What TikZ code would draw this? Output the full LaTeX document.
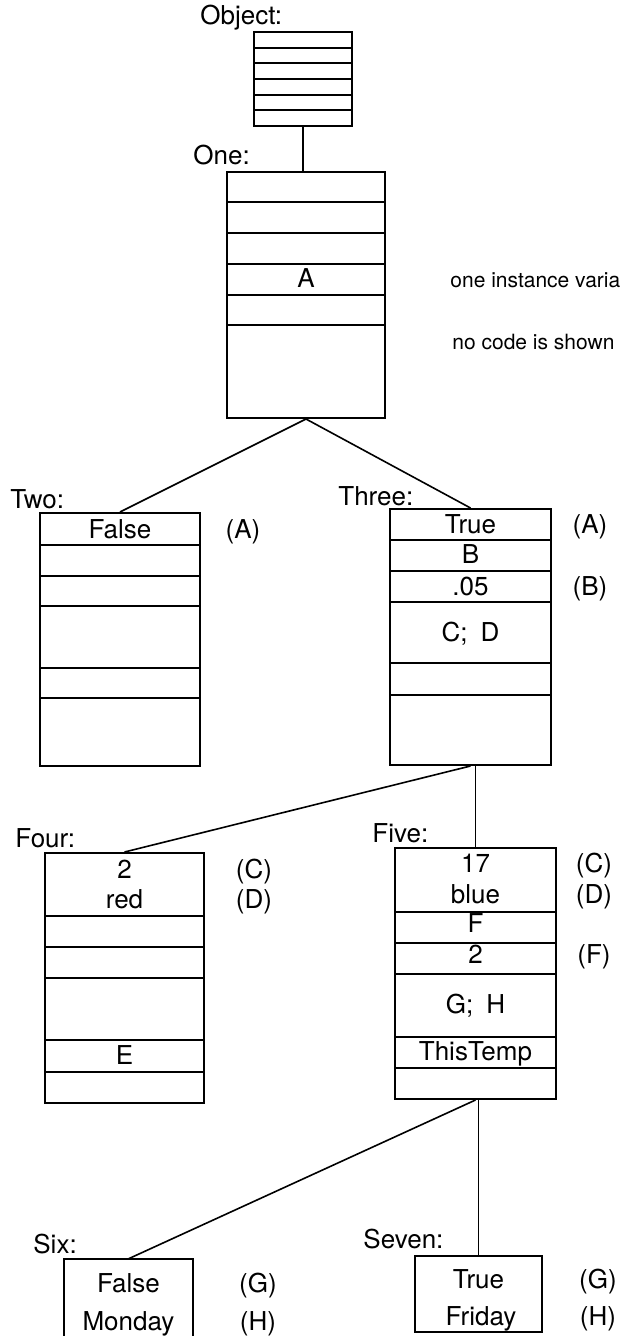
\documentclass[tikz,border=0pt]{standalone}
\usepackage{fontspec}
\setmainfont{TeX Gyre Heros}
\usetikzlibrary{fit}
\tikzset{
  box/.style={draw, line width=1pt, inner sep=0pt},
  row/.style={line width=1pt},
  link/.style={line width=0.8pt},
  lbl/.style={anchor=base west, inner sep=0pt, font=\fontsize{13}{15}\selectfont},
  val/.style={anchor=base, inner sep=0pt, font=\fontsize{13}{15}\selectfont},
  note/.style={anchor=base west, inner sep=0pt, font=\fontsize{10.5}{12}\selectfont},
}
\begin{document}
\begin{tikzpicture}[x=0.5pt,y=-0.5pt]
\useasboundingbox (0,0) rectangle (620,1336);
\clip (0,0) rectangle (620,1336);

% ---- Object ----
\node[lbl] (objectlbl) at (200,25) {Object:};
\node[box, fit={(254,32)(352,126)}] (object) {};
\foreach \y in {47.7,63.3,79,94.7,110.3}
  \draw[row] (object.west |- 0,\y) -- (object.east |- 0,\y);

% ---- One ----
\node[lbl] (onelbl) at (193,165) {One:};
\node[box, fit={(227,172)(385,418)}] (one) {};
\foreach \y in {202,233,264,295,325}
  \draw[row] (one.west |- 0,\y) -- (one.east |- 0,\y);
\node[val] (oneA) at (one.center |- 0,288) {A};
\node[note] (noteA) at (450,288) {one instance varia};
\node[note] (noteB) at (452,350) {no code is shown};

% ---- Two ----
\node[lbl] (twolbl) at (10,508) {Two:};
\node[box, fit={(40,513)(200,766)}] (two) {};
\foreach \y in {545,576,606,668,698}
  \draw[row] (two.west |- 0,\y) -- (two.east |- 0,\y);
\node[val] (twoA) at (two.center |- 0,538) {False};
\node[val] (twoAn) at (243,538) {(A)};

% ---- Three ----
\node[lbl] (threelbl) at (338,505) {Three:};
\node[box, fit={(390,509)(551,765)}] (three) {};
\foreach \y in {540,571,602,663,695}
  \draw[row] (three.west |- 0,\y) -- (three.east |- 0,\y);
\node[val] (threeA) at (three.center |- 0,533) {True};
\node[val] (threeB) at (three.center |- 0,563) {B};
\node[val] (threeC) at (three.center |- 0,595) {.05};
\node[val] (threeD) at (three.center |- 0,641) {C;\enspace D};
\node[val] (threeAn) at (590,533) {(A)};
\node[val] (threeBn) at (590,595) {(B)};

% ---- Four ----
\node[lbl] (fourlbl) at (15,847) {Four:};
\node[box, fit={(45,853)(204,1103)}] (four) {};
\foreach \y in {916,947,978,1040,1072}
  \draw[row] (four.west |- 0,\y) -- (four.east |- 0,\y);
\node[val] (fourC) at (four.center |- 0,878) {2};
\node[val] (fourD) at (four.center |- 0,908) {red};
\node[val] (fourE) at (four.center |- 0,1064) {E};
\node[val] (fourCn) at (254,878) {(C)};
\node[val] (fourDn) at (254,908) {(D)};

% ---- Five ----
\node[lbl] (fivelbl) at (372,842) {Five:};
\node[box, fit={(395,848)(556,1099)}] (five) {};
\foreach \y in {912,943,974,1037,1068}
  \draw[row] (five.west |- 0,\y) -- (five.east |- 0,\y);
\node[val] (fiveC) at (five.center |- 0,872) {17};
\node[val] (fiveD) at (five.center |- 0,903) {blue};
\node[val] (fiveF) at (five.center |- 0,932) {F};
\node[val] (fiveFv) at (five.center |- 0,963) {2};
\node[val] (fiveG) at (five.center |- 0,1013) {G;\enspace H};
\node[val] (fiveT) at (five.center |- 0,1060) {ThisTemp};
\node[val] (fiveCn) at (594,872) {(C)};
\node[val] (fiveDn) at (594,903) {(D)};
\node[val] (fiveFn) at (594,963) {(F)};

% ---- Six ----
\node[lbl] (sixlbl) at (33,1253) {Six:};
\node[box, fit={(64,1259)(193,1345)}] (six) {};
\node[val] (sixG) at (128.5,1292) {False};
\node[val] (sixH) at (128.5,1330) {Monday};
\node[val] (sixGn) at (258,1292) {(G)};
\node[val] (sixHn) at (258,1330) {(H)};

% ---- Seven ----
\node[lbl] (sevenlbl) at (363,1248) {Seven:};
\node[box, fit={(415,1256)(542,1332)}] (seven) {};
\node[val] (sevenG) at (seven.center |- 0,1288) {True};
\node[val] (sevenH) at (481,1325) {Friday};
\node[val] (sevenGn) at (598,1288) {(G)};
\node[val] (sevenHn) at (598,1325) {(H)};

% ---- inheritance links ----
\draw[link] (object.south) -- (object.south |- one.north);
\draw[link] (one.south) -- (two.north);
\draw[link] (one.south) -- (three.north);
\draw[link] (three.south) -- (four.north);
\draw[link] (five.north) -- (five.north |- three.south);
\draw[link] (five.south) -- (128,1259);
\draw[link] (seven.north) -- (seven.north |- five.south);
\end{tikzpicture}
\end{document}
